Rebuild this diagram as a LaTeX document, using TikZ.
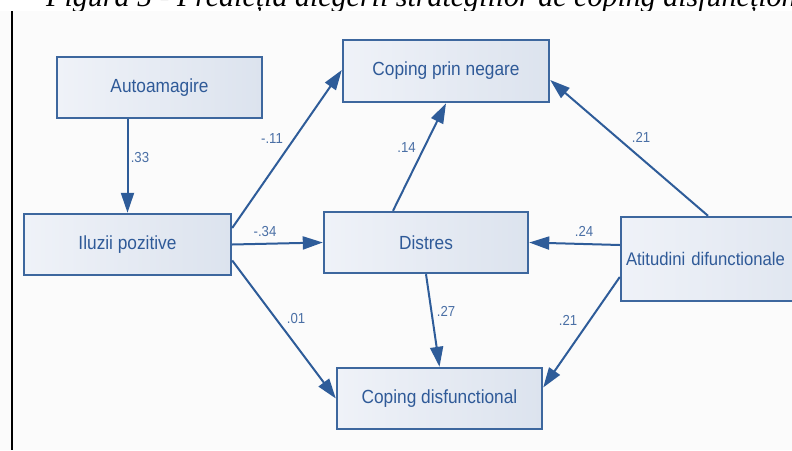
\documentclass[tikz,border=0pt]{standalone}
\usepackage{fontspec}
\setmainfont{Liberation Sans}
\newfontfamily\boxfont[FakeStretch=0.91]{Liberation Sans}
\newfontfamily\capfont{Liberation Serif}
\usetikzlibrary{arrows.meta}
\definecolor{bgcol}{HTML}{FBFBFB}
\definecolor{boxborder}{HTML}{3D679E}
\definecolor{boxtext}{HTML}{2F5A98}
\definecolor{labtext}{HTML}{4A6FA5}
\definecolor{arrowcol}{HTML}{2E5C99}
\definecolor{fillL}{HTML}{EFF2F8}
\definecolor{fillR}{HTML}{DCE3EE}
\tikzset{
  varbox/.style={draw=boxborder, line width=2.4pt, left color=fillL, right color=fillR,
    text=boxtext, font=\boxfont\fontsize{19}{22}\selectfont, inner sep=0pt},
  path/.style={draw=arrowcol, line width=2pt, -{Triangle[length=20pt,width=13pt]}},
  coef/.style={text=labtext, font=\boxfont\fontsize{14.5}{17}\selectfont, inner sep=0pt}
}
\begin{document}
\begin{tikzpicture}[x=1pt,y=-1pt]
\useasboundingbox (0,0) rectangle (792,450);
\clip (0,0) rectangle (792,450);
\fill[white] (0,0) rectangle (792,450);
\node[anchor=base west, inner sep=0pt, font=\capfont\itshape\fontsize{30}{32}\selectfont] (cap) at (46,6)
  {Figura 5 - Predicția alegerii strategiilor de coping disfuncționale};
\fill[bgcol] (0,10.5) rectangle (792,450);
\draw[line width=1.2pt] (12,11) -- (12,450);

% boxes
\node[varbox, minimum width=205pt, minimum height=61pt] (auto) at (159.5,87.5) {Autoamagire};
\node[varbox, minimum width=207pt, minimum height=61pt] (iluzii) at (127.5,244.5) {Iluzii pozitive};
\node[varbox, minimum width=206pt, minimum height=62pt] (negare) at (446,71) {Coping prin negare};
\node[varbox, minimum width=204pt, minimum height=61pt] (distres) at (426,242.5) {Distres};
\node[varbox, minimum width=205pt, minimum height=61pt] (disf) at (439.5,398.5) {Coping disfunctional};
\node[varbox, minimum width=230pt, minimum height=84pt, text width=220pt, align=left,
      inner sep=0pt, font=\boxfont\fontsize{18.3}{22}\selectfont] (atit) at (736,259)
      {\hspace*{0pt}Atitudini difunctionale};

% paths
\draw[path] (auto.south -| iluzii.north) -- (iluzii.north);
\draw[path] ([yshift=16.5pt]iluzii.east) -- ([yshift=1pt]negare.west);
\draw[path] (iluzii.east) -- (distres.west);
\draw[path] ([yshift=-16pt]iluzii.east) -- (disf.west);
\draw[path] ([xshift=-33pt]distres.north) -- (negare.south);
\draw[path] (distres.south) -- (disf.north);
\draw[path] ([xshift=-28pt]atit.north) -- ([yshift=-9pt]negare.east);
\draw[path] ([yshift=14pt]atit.west) -- (distres.east);
\draw[path] ([yshift=-18pt]atit.west) -- ([yshift=11pt]disf.east);

% coefficients
\node[coef] (c1) at (140,158) {.33};
\node[coef] (c2) at (272,139) {-.11};
\node[coef] (c3) at (265,232) {-.34};
\node[coef] (c4) at (296,319) {.01};
\node[coef] (c5) at (406.5,148) {.14};
\node[coef] (c6) at (446,311) {.27};
\node[coef] (c7) at (641,137) {.21};
\node[coef] (c8) at (584,231) {.24};
\node[coef] (c9) at (568,320) {.21};
\end{tikzpicture}
\end{document}
